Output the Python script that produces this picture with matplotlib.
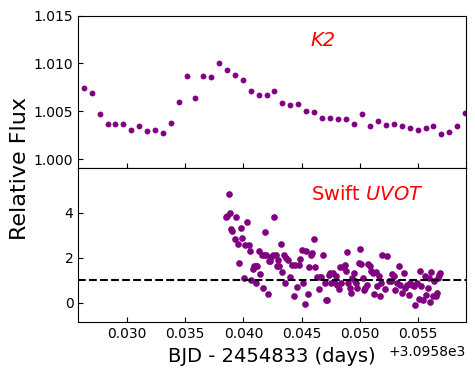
import matplotlib
matplotlib.use("Agg")
import matplotlib.pyplot as plt

OFFSET = 3095.8

# K2 light curve (time - 3095.8, relative flux)
k2_time = [0.02631, 0.02700, 0.02768, 0.02837, 0.02900, 0.02966, 0.03035, 0.03103,
           0.03172, 0.03241, 0.03310, 0.03378, 0.03447, 0.03516, 0.03584, 0.03653,
           0.03722, 0.03791, 0.03859, 0.03928, 0.03997, 0.04066, 0.04134, 0.04203,
           0.04263, 0.04332, 0.04401, 0.04469, 0.04538, 0.04607, 0.04676, 0.04744,
           0.04813, 0.04882, 0.04950, 0.05019, 0.05088, 0.05157, 0.05225, 0.05294,
           0.05363, 0.05432, 0.05500, 0.05569, 0.05629, 0.05698, 0.05767, 0.05835,
           0.05904]
k2_flux = [1.00739, 1.00686, 1.00467, 1.00362, 1.00362, 1.00362, 1.00300, 1.00341,
           1.00289, 1.00300, 1.00268, 1.00373, 1.00592, 1.00868, 1.00634, 1.00868,
           1.00854, 1.01000, 1.00937, 1.00875, 1.00822, 1.00707, 1.00666, 1.00666,
           1.00707, 1.00582, 1.00561, 1.00571, 1.00498, 1.00488, 1.00425, 1.00425,
           1.00415, 1.00415, 1.00362, 1.00467, 1.00341, 1.00394, 1.00352, 1.00362,
           1.00341, 1.00321, 1.00300, 1.00321, 1.00341, 1.00258, 1.00279, 1.00341,
           1.00477]

# Swift UVOT light curve (time - 3095.8, relative flux)
uvot_time = [0.03846, 0.03857, 0.03874, 0.03886, 0.03897, 0.03906, 0.03929, 0.03938,
             0.03952, 0.03960, 0.03981, 0.03986, 0.04003, 0.04015, 0.04029, 0.04044,
             0.04055, 0.04067, 0.04081, 0.04089, 0.04104, 0.04110, 0.04118, 0.04132,
             0.04141, 0.04161, 0.04167, 0.04181, 0.04184, 0.04196, 0.04210, 0.04218,
             0.04227, 0.04236, 0.04253, 0.04261, 0.04276, 0.04287, 0.04296, 0.04304,
             0.04319, 0.04330, 0.04345, 0.04353, 0.04368, 0.04382, 0.04402, 0.04416,
             0.04431, 0.04445, 0.04459, 0.04474, 0.04482, 0.04502, 0.04511, 0.04531,
             0.04540, 0.04554, 0.04563, 0.04583, 0.04588, 0.04606, 0.04617, 0.04631,
             0.04646, 0.04654, 0.04669, 0.04683, 0.04697, 0.04712, 0.04720, 0.04732,
             0.04746, 0.04755, 0.04769, 0.04775, 0.04792, 0.04806, 0.04821, 0.04832,
             0.04841, 0.04855, 0.04869, 0.04878, 0.04889, 0.04901, 0.04912, 0.04927,
             0.04932, 0.04947, 0.04958, 0.04970, 0.04978, 0.04990, 0.05004, 0.05013,
             0.05027, 0.05036, 0.05047, 0.05061, 0.05070, 0.05084, 0.05099, 0.05113,
             0.05119, 0.05136, 0.05147, 0.05162, 0.05170, 0.05179, 0.05190, 0.05213,
             0.05236, 0.05251, 0.05265, 0.05279, 0.05291, 0.05305, 0.05319, 0.05337,
             0.05348, 0.05362, 0.05377, 0.05391, 0.05405, 0.05420, 0.05434, 0.05451,
             0.05466, 0.05474, 0.05494, 0.05506, 0.05520, 0.05529, 0.05543, 0.05557,
             0.05572, 0.05586, 0.05595, 0.05606, 0.05615, 0.05629, 0.05641, 0.05652,
             0.05663, 0.05675, 0.05684, 0.05692]
uvot_flux = [3.78, 3.85, 4.82, 4.00, 3.25, 3.18, 2.81, 3.82,
             2.61, 1.76, 3.33, 2.85, 1.09, 2.55, 3.60, 2.54,
             2.31, 1.01, 1.51, 1.61, 1.61, 0.87, 1.61, 2.31,
             1.28, 2.10, 0.64, 2.10, 3.15, 2.13, 0.37, 1.84,
             1.84, 2.01, 2.10, 3.78, 2.13, 1.61, 1.91, 1.61,
             2.61, 1.36, 2.10, 0.87, 1.99, 1.91, 1.12, 1.66,
             0.30, 1.66, 0.69, 1.66, 1.94, 2.33, 0.87, -0.07,
             2.31, 0.39, 1.58, 2.13, 2.21, 2.81, 1.58, 1.13,
             0.61, 1.13, 1.13, 2.10, 0.87, 0.12, 0.12, 1.24,
             1.31, 0.87, 1.31, 0.90, 1.16, 0.79, 0.61, 1.58,
             0.87, 1.58, 1.66, 1.39, 2.25, 0.87, 0.64, 0.42,
             1.09, 1.31, 0.94, 0.87, 0.64, 1.76, 2.36, 1.69,
             1.09, 0.57, 0.64, 0.76, 1.69, 1.61, 1.39, 1.31,
             0.37, 1.36, 0.72, 1.16, 0.31, 0.87, 2.13, 0.61,
             2.06, 0.94, 0.94, 1.28, 1.16, 0.57, 0.87, 1.61,
             0.79, 0.42, 1.31, 0.64, 0.79, 0.34, 0.87, 0.79,
             0.72, -0.10, 0.87, 0.16, 1.39, 0.72, 0.12, 1.16,
             0.34, 0.64, 1.09, 0.04, 1.36, 0.27, 0.94, 0.27,
             0.42, 1.09, 1.24, 1.31]

baseline = 1.0

k2_t = [OFFSET + t for t in k2_time]
uv_t = [OFFSET + t for t in uvot_time]

fig = plt.figure(figsize=(4.75, 3.76), dpi=100)
ax1 = fig.add_axes([0.1648, 0.5532, 0.8152, 0.4050])
ax2 = fig.add_axes([0.1648, 0.1428, 0.8152, 0.4104], sharex=ax1)

color = "#800080"
ax1.plot(k2_t, k2_flux, "o", color=color, ms=4.2, mec="none")
ax2.plot(uv_t, uvot_flux, "o", color=color, ms=4.8, mec="none")
ax2.axhline(baseline, color="k", ls="--", lw=1.5)

ax1.set_xlim(OFFSET + 0.02581, OFFSET + 0.05908)
ax1.set_ylim(0.99906, 1.015)
ax1.set_yticks([1.000, 1.005, 1.010, 1.015])
ax2.set_ylim(-0.88, 5.98)
ax2.set_yticks([0, 2, 4])

for ax in (ax1, ax2):
    ax.tick_params(direction="in", labelsize=10)
plt.setp(ax1.get_xticklabels(), visible=False)

ax1.text(0.60, 0.84, "K2", transform=ax1.transAxes, color="red",
         fontsize=14, style="italic", va="center", ha="left")
ax2.text(0.60, 0.83, r"Swift $\it{UVOT}$", transform=ax2.transAxes, color="red",
         fontsize=14, va="center", ha="left")

ax2.set_xlabel("BJD - 2454833 (days)", fontsize=14)
fig.text(0.042, 0.553, "Relative Flux", rotation=90, fontsize=16,
         va="center", ha="center")

fig.savefig("out.png", dpi=100)
